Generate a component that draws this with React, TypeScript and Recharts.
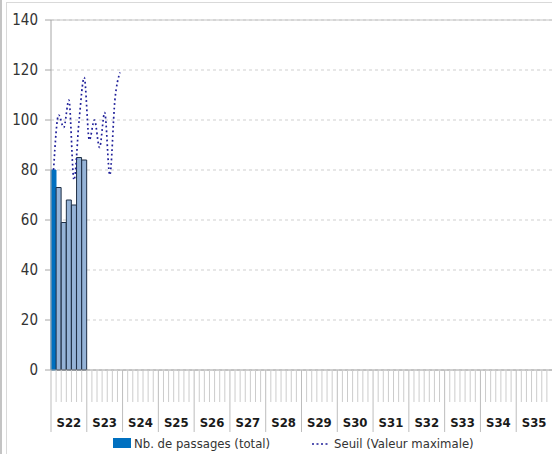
import React from 'react';
import { ComposedChart, Bar, Line, XAxis, YAxis, CartesianGrid, ReferenceLine, Legend, Cell } from 'recharts';

const weeks = ['S22', 'S23', 'S24', 'S25', 'S26', 'S27', 'S28', 'S29', 'S30', 'S31', 'S32', 'S33', 'S34', 'S35'];
const weekdays = ['1', '2', '3', '4', '5', '6', '7'];
const passages = [80, 73, 59, 68, 66, 85, 84];
const seuil = [80, 102, 97, 108, 76, 100, 117, 92, 100, 89, 103, 78, 108, 119];
const yTicks = [0, 20, 40, 60, 80, 100, 120, 140];

const days: string[] = [];
weeks.forEach((w) => weekdays.forEach((d) => days.push(w + '-' + d)));

const data = days.map((d, i) => ({
  day: d,
  week: d.split('-')[0],
  passages: i < passages.length ? passages[i] : null,
  seuil: i < seuil.length ? seuil[i] : null,
}));

const FONT = '"Liberation Sans Narrow", "DejaVu Sans Condensed", "Roboto Condensed", "Liberation Sans", sans-serif';

const DayTick = (props: any) => {
  const { x, y, payload, index } = props;
  const half = payload && typeof payload.offset === 'number' && payload.offset > 0 ? payload.offset : 2.556;
  const bx = x - half;
  const isWeekStart = index % 7 === 0;
  return (
    <g>
      <line x1={bx} x2={bx} y1={y} y2={isWeekStart ? y + 62 : y + 32} stroke={isWeekStart ? '#bdbdbd' : '#cccccc'} strokeWidth={1} />
      {index % 7 === 3 ? (
        <text x={x} y={y + 57} textAnchor="middle" fontFamily={FONT} fontWeight="bold" fontSize={13} fill="#1a1a1a">
          {payload.value.split('-')[0]}
        </text>
      ) : null}
    </g>
  );
};

const LegendContent = () => (
  <div style={{ position: 'relative', height: 20, width: 552, fontFamily: FONT, fontSize: 13, color: '#333' }}>
    <div style={{ position: 'absolute', left: 113, top: 4, width: 18, height: 10, background: '#0070c0' }} />
    <span style={{ position: 'absolute', left: 134, top: 1, lineHeight: '18px', whiteSpace: 'nowrap' }}>Nb. de passages (total)</span>
    <svg style={{ position: 'absolute', left: 311, top: 0 }} width={20} height={20}>
      <line x1={1} x2={19} y1={10} y2={10} stroke="#1f1f99" strokeWidth={1.6} strokeDasharray="2 2.5" />
    </svg>
    <span style={{ position: 'absolute', left: 334, top: 1, lineHeight: '18px', whiteSpace: 'nowrap' }}>Seuil (Valeur maximale)</span>
  </div>
);

export default function App() {
  return (
    <div style={{ position: 'absolute', left: 0, top: 0, width: 552, height: 454, background: '#fff', overflow: 'hidden' }}>
      <div style={{ position: 'absolute', left: 0, top: 0, width: 2, height: 454, background: '#c4c4c4' }} />
      <div style={{ position: 'absolute', left: 6, top: 2, width: 546, height: 452, borderLeft: '1px solid #d9d9d9', borderTop: '1px solid #d9d9d9', boxSizing: 'border-box' }} />
      <ComposedChart
        width={552}
        height={454}
        data={data}
        margin={{ top: 20, right: 0, left: 0, bottom: 0 }}
        barCategoryGap={0}
        barGap={0}
        style={{ position: 'absolute', left: 0, top: 0 }}
      >
        <CartesianGrid horizontal vertical={false} stroke="#cfcfcf" strokeDasharray="3 3" />
        <ReferenceLine y={140} stroke="#c4c4c4" strokeWidth={1} />
        <XAxis
          dataKey="day"
          interval={0}
          height={64}
          tickSize={0}
          tickMargin={0}
          tickLine={false}
          axisLine={{ stroke: '#9e9e9e' }}
          tick={<DayTick />}
        />
        <YAxis
          width={51}
          domain={[0, 140]}
          ticks={yTicks}
          tickSize={6}
          tickMargin={7}
          axisLine={{ stroke: '#a6a6a6' }}
          tickLine={{ stroke: '#a6a6a6' }}
          tick={{ fontFamily: FONT, fontSize: 15, fill: '#333' }}
        />
        <Legend verticalAlign="bottom" content={<LegendContent />} />
        <Bar dataKey="passages" isAnimationActive={false} stroke="#1f2f45" strokeWidth={1}>
          {data.map((d, i) => (
            <Cell key={d.day} fill={i === 0 ? '#0070c0' : '#95b3d7'} stroke={i === 0 ? '#0070c0' : '#1f2f45'} />
          ))}
        </Bar>
        <Line
          dataKey="seuil"
          type="monotone"
          stroke="#1f1f99"
          strokeWidth={1.7}
          strokeDasharray="1.8 2.8"
          dot={false}
          activeDot={false}
          connectNulls={false}
          isAnimationActive={false}
        />
      </ComposedChart>
    </div>
  );
}
